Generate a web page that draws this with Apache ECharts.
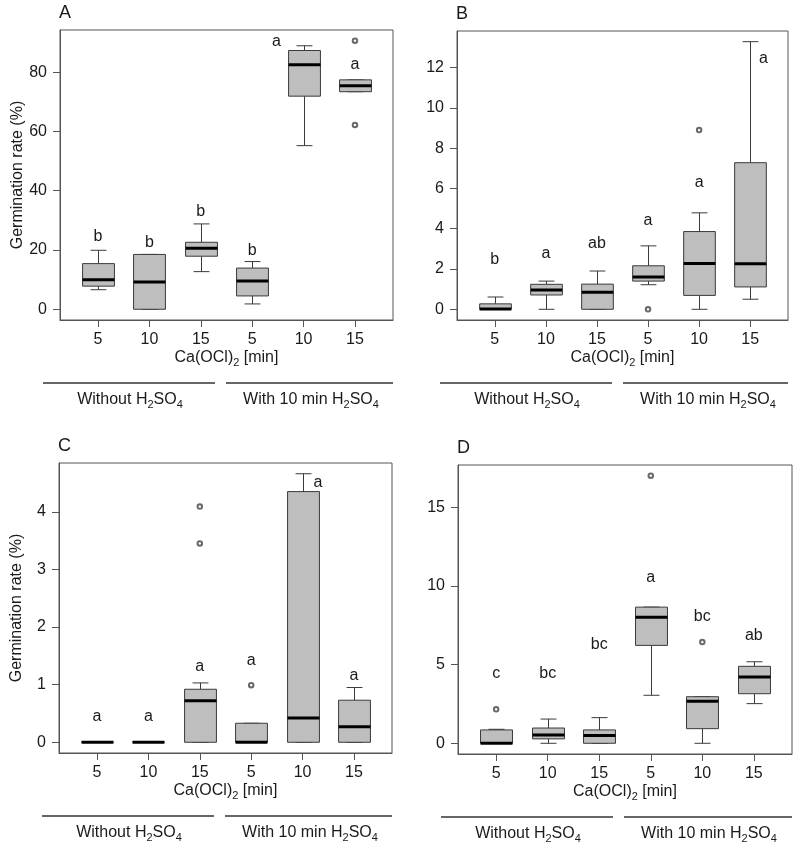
<!DOCTYPE html>
<html>
<head>
<meta charset="utf-8">
<script src="https://cdn.jsdelivr.net/npm/echarts@6/dist/echarts.min.js"></script>
<style>
html,body{margin:0;padding:0;background:#fff;}
#chart{width:794px;height:844px;}
</style>
</head>
<body>
<div id="chart"></div>
<script>
// ---------------- DATA ----------------
const categories = ['5', '10', '15', '5', '10', '15'];
const categoryPositions = [1, 2, 3, 4, 5, 6];
const panelNames = ['A', 'B', 'C', 'D'];
const yAxisTitle = 'Germination rate (%)';

// box stats: [min, Q1, median, Q3, max]
const boxA = [
  [6.6, 7.8, 10.0, 15.4, 19.9],
  [0, 0, 9.2, 18.5, 18.5],
  [12.7, 17.9, 20.6, 22.6, 28.8],
  [1.8, 4.5, 9.5, 13.9, 16.1],
  [55.2, 71.9, 82.5, 87.3, 88.9],
  [73.4, 73.4, 75.4, 77.4, 77.4]
];
const boxB = [
  [0, 0, 0.02, 0.27, 0.61],
  [0, 0.71, 0.96, 1.24, 1.40],
  [0, 0, 0.84, 1.25, 1.90],
  [1.22, 1.40, 1.60, 2.16, 3.15],
  [0, 0.69, 2.28, 3.86, 4.79],
  [0.50, 1.11, 2.26, 7.28, 13.29]
];
const boxC = [
  [0, 0, 0, 0, 0],
  [0, 0, 0, 0, 0],
  [0, 0, 0.72, 0.92, 1.03],
  [0, 0, 0, 0.33, 0.33],
  [0, 0, 0.42, 4.35, 4.66],
  [0, 0, 0.27, 0.73, 0.95]
];
const boxD = [
  [0, 0, 0, 0.85, 0.89],
  [0, 0.28, 0.53, 0.97, 1.54],
  [0, 0, 0.49, 0.85, 1.63],
  [3.05, 6.22, 8.0, 8.65, 8.65],
  [0, 0.93, 2.67, 2.96, 2.96],
  [2.52, 3.15, 4.21, 4.89, 5.18]
];

// outliers: [category position, value]
const outA = [[6, 90.6], [6, 62.2]];
const outB = [[4, 0], [5, 8.9]];
const outC = [[3, 3.45], [3, 4.09], [4, 0.99]];
const outD = [[1, 2.16], [4, 17.0], [5, 6.43]];

// significance letters
const lettersA = ['b', 'b', 'b', 'b', 'a', 'a'];
const letterXA = [1, 2, 3, 4, 4.47, 6];
const letterYA = [24.4, 22.4, 32.8, 19.7, 90.4, 82.4];
const lettersB = ['b', 'a', 'ab', 'a', 'a', 'a'];
const letterXB = [1, 2, 3, 4, 5, 6.26];
const letterYB = [2.46, 2.76, 3.28, 4.41, 6.31, 12.46];
const lettersC = ['a', 'a', 'a', 'a', 'a', 'a'];
const letterXC = [1, 2, 3, 4, 5.3, 6];
const letterYC = [0.44, 0.44, 1.32, 1.42, 4.51, 1.16];
const lettersD = ['c', 'bc', 'bc', 'a', 'bc', 'ab'];
const letterXD = [1, 2, 3, 4, 5, 6];
const letterYD = [4.44, 4.44, 6.24, 10.51, 8.04, 6.85];

// y tick values
const ticksA = [0, 20, 40, 60, 80];
const ticksB = [0, 2, 4, 6, 8, 10, 12];
const ticksC = [0, 1, 2, 3, 4];
const ticksD = [0, 5, 10, 15];

// ---------------- LAYOUT / STYLE ----------------
const FONT = '"Liberation Sans", Arial, Helvetica, sans-serif';
const TXT = '#1a1a1a';
const FRAME = '#555';
const BOXLINE = '#3a3a3a';
const FILL = '#bebebe';
const BOX_W = 0.62;

const panels = [
  {name: panelNames[0], box: boxA, out: outA, lt: lettersA, lx: letterXA, ly: letterYA, ticks: ticksA, ymin: -3.62, ymax: 94.22,
   grid: {left: 60, top: 30, width: 333, height: 290}, ytitle: true},
  {name: panelNames[1], box: boxB, out: outB, lt: lettersB, lx: letterXB, ly: letterYB, ticks: ticksB, ymin: -0.532, ymax: 13.82,
   grid: {left: 457, top: 31, width: 331, height: 289}, ytitle: false},
  {name: panelNames[2], box: boxC, out: outC, lt: lettersC, lx: letterXC, ly: letterYC, ticks: ticksC, ymin: -0.186, ymax: 4.846,
   grid: {left: 59, top: 463, width: 333, height: 290}, ytitle: true},
  {name: panelNames[3], box: boxD, out: outD, lt: lettersD, lx: letterXD, ly: letterYD, ticks: ticksD, ymin: -0.68, ymax: 17.68,
   grid: {left: 458, top: 465, width: 334, height: 289}, ytitle: false}
];

const grids = [], xAxes = [], yAxes = [], series = [], graphics = [];

panels.forEach((p, i) => {
  grids.push(Object.assign({show: true, borderColor: FRAME, borderWidth: 1, backgroundColor: 'transparent'}, p.grid));
  xAxes.push({
    type: 'value', gridIndex: i, min: 0.26, max: 6.74,
    splitLine: {show: false}, axisLine: {show: true, onZero: false, lineStyle: {color: FRAME, width: 1}},
    axisTick: {show: true, inside: false, length: 7, lineStyle: {color: FRAME}, customValues: categoryPositions},
    axisLabel: {show: true, margin: 12, fontSize: 16, color: TXT, fontFamily: FONT, customValues: categoryPositions,
      formatter: v => categories[Math.round(v) - 1]}
  });
  yAxes.push({
    type: 'value', gridIndex: i, min: p.ymin, max: p.ymax,
    splitLine: {show: false}, axisLine: {show: true, onZero: false, lineStyle: {color: FRAME, width: 1}},
    axisTick: {show: true, inside: false, length: 7, lineStyle: {color: FRAME}, customValues: p.ticks},
    axisLabel: {show: true, margin: 13, fontSize: 16, color: TXT, fontFamily: FONT, customValues: p.ticks},
    name: p.ytitle ? yAxisTitle : '', nameLocation: 'middle', nameGap: 34,
    nameTextStyle: {fontSize: 16, color: TXT, fontFamily: FONT}
  });

  const boxData = p.box.map((b, k) => [categoryPositions[k]].concat(b));
  series.push({
    type: 'custom', xAxisIndex: i, yAxisIndex: i, data: boxData,
    encode: {x: 0, y: [1, 2, 3, 4, 5]},
    renderItem: function (params, api) {
      const x = api.value(0);
      const lo = api.value(1), q1 = api.value(2), med = api.value(3), q3 = api.value(4), hi = api.value(5);
      const bw = api.size([BOX_W, 0])[0];
      const sw = bw / 2;
      const pLo = api.coord([x, lo]), pQ1 = api.coord([x, q1]), pMed = api.coord([x, med]);
      const pQ3 = api.coord([x, q3]), pHi = api.coord([x, hi]);
      const cx = Math.round(pMed[0]) + 0.5;
      const ln = {stroke: BOXLINE, lineWidth: 1};
      const ch = [];
      ch.push({type: 'line', shape: {x1: cx, y1: pQ3[1], x2: cx, y2: pHi[1]}, style: ln});
      ch.push({type: 'line', shape: {x1: cx, y1: pQ1[1], x2: cx, y2: pLo[1]}, style: ln});
      ch.push({type: 'line', shape: {x1: cx - sw / 2, y1: pHi[1], x2: cx + sw / 2, y2: pHi[1]}, style: ln});
      ch.push({type: 'line', shape: {x1: cx - sw / 2, y1: pLo[1], x2: cx + sw / 2, y2: pLo[1]}, style: ln});
      ch.push({type: 'rect', shape: {x: cx - bw / 2, y: pQ3[1], width: bw, height: pQ1[1] - pQ3[1]},
        style: {fill: FILL, stroke: BOXLINE, lineWidth: 1}});
      ch.push({type: 'line', shape: {x1: cx - bw / 2, y1: pMed[1], x2: cx + bw / 2, y2: pMed[1]},
        style: {stroke: '#000', lineWidth: 3}});
      return {type: 'group', children: ch};
    },
    z: 2, silent: true
  });

  series.push({
    type: 'scatter', xAxisIndex: i, yAxisIndex: i, data: p.out,
    symbol: 'emptyCircle', symbolSize: 4.5,
    itemStyle: {color: '#444', borderColor: '#444', borderWidth: 0.8},
    z: 3, silent: true
  });

  const letterData = p.lt.map((t, k) => [p.lx[k], p.ly[k]]);
  series.push({
    type: 'custom', xAxisIndex: i, yAxisIndex: i, data: letterData,
    encode: {x: 0, y: 1},
    renderItem: function (params, api) {
      const pt = api.coord([api.value(0), api.value(1)]);
      return {type: 'text', x: pt[0], y: pt[1],
        style: {text: p.lt[params.dataIndex], align: 'center', verticalAlign: 'middle',
          fontSize: 16, fill: TXT, fontFamily: FONT}};
    },
    z: 4, silent: true
  });

  // panel letter
  graphics.push({type: 'text', left: p.grid.left - 1, top: p.grid.top - 26,
    style: {text: p.name, fontSize: 18, fill: TXT, fontFamily: FONT}});

  // x axis title and group annotations
  const cxTitle = p.grid.left + p.grid.width / 2;
  const base = p.grid.top + p.grid.height;
  const rich = {
    n: {fontSize: 16, fontFamily: FONT, fill: TXT, color: TXT},
    s: {fontSize: 11, fontFamily: FONT, fill: TXT, color: TXT, padding: [10, 0, 0, 0]}
  };
  graphics.push({type: 'text', x: cxTitle, y: base + 38,
    style: {text: '{n|Ca(OCl)}{s|2}{n| [min]}', rich: rich, align: 'center', verticalAlign: 'middle'}});
  const gl = p.grid.left;
  const lineY = base + 63;
  graphics.push({type: 'line', shape: {x1: gl - 17, y1: lineY, x2: gl + 155, y2: lineY}, style: {stroke: '#333', lineWidth: 1.3}});
  graphics.push({type: 'line', shape: {x1: gl + 166, y1: lineY, x2: gl + p.grid.width, y2: lineY}, style: {stroke: '#333', lineWidth: 1.3}});
  graphics.push({type: 'text', x: gl + 70, y: base + 80,
    style: {text: '{n|Without H}{s|2}{n|SO}{s|4}', rich: rich, align: 'center', verticalAlign: 'middle'}});
  graphics.push({type: 'text', x: gl + 251, y: base + 80,
    style: {text: '{n|With 10 min H}{s|2}{n|SO}{s|4}', rich: rich, align: 'center', verticalAlign: 'middle'}});
});

const chart = echarts.init(document.getElementById('chart'), null, {renderer: 'canvas'});
chart.setOption({
  backgroundColor: '#fff',
  animation: false,
  textStyle: {fontFamily: FONT},
  grid: grids,
  xAxis: xAxes,
  yAxis: yAxes,
  series: series,
  graphic: graphics
});
</script>
</body>
</html>
